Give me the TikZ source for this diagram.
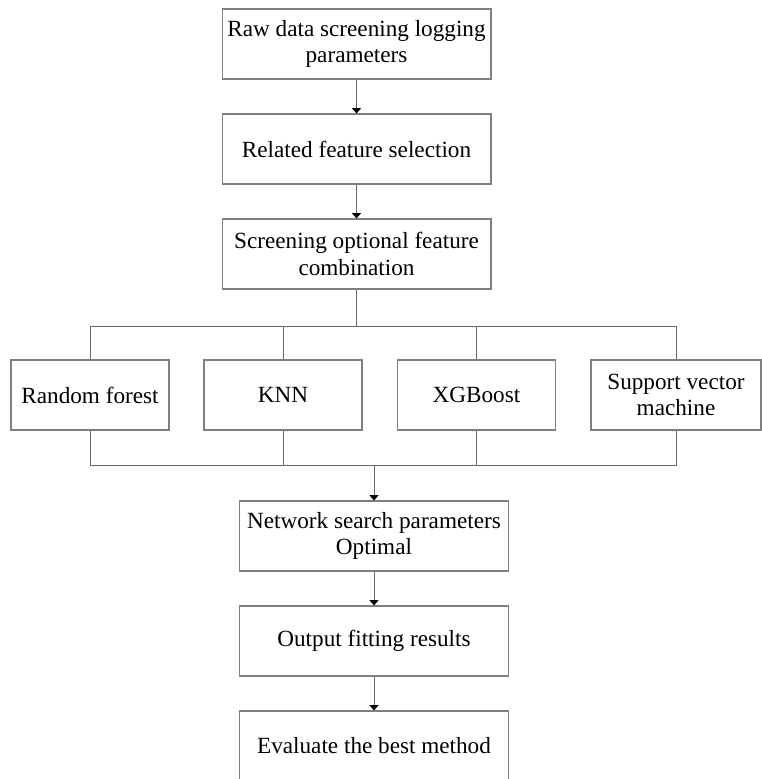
\documentclass[tikz,border=0pt]{standalone}
\usepackage{fontspec}
\setmainfont{Liberation Serif}
\usepackage{tikz}
\usetikzlibrary{arrows.meta,positioning}
\definecolor{framegray}{RGB}{128,128,128}
\definecolor{linegray}{RGB}{105,105,105}
\tikzstyle{box}   =[rectangle, draw=framegray, line width=0.6pt,
                    minimum width=5.38cm, minimum height=1.4cm,
                    align=center, inner sep=2pt,
                    font=\fontsize{13.2}{15}\selectfont]
\tikzstyle{method}=[box, minimum width=3.16cm]
\tikzstyle{link}  =[draw=linegray, line width=0.55pt]
\tikzstyle{flow}  =[link, -{Triangle[length=3pt,width=5pt,color=black]}]

\begin{document}
\begin{tikzpicture}[x=0.02cm, y=-0.02cm]
    \useasboundingbox (0,0) rectangle (762,779);
    % main column
    \node[box] (raw)  at (356.5,44)  {Raw data screening logging\\parameters};
    \node[box] (feat) at (356.5,149) {Related feature selection};
    \node[box] (comb) at (356.5,254) {Screening optional feature\\combination};
    % the four methods
    \node[method] (rf)  at (90,395)    {Random forest};
    \node[method] (knn) at (283,395)   {KNN};
    \node[method] (xgb) at (476.5,395) {XGBoost};
    \node[method, minimum width=3.4cm] (svm) at (676,395) {Support vector\\machine};
    % lower column
    \node[box] (grid) at (374,536) {Network search parameters\\Optimal};
    \node[box] (fit)  at (374,641) {Output fitting results};
    \node[box] (best) at (374,746) {Evaluate the best method};

    \coordinate (split) at (356.5,326);
    \coordinate (merge) at (374,465);

    \draw[flow] (raw) to (feat);
    \draw[flow] (feat) to (comb);
    \draw[link] (comb) -- (split);
    \foreach \m in {rf,knn,xgb,svm}{
        \draw[link] (\m.north) |- (split);
        \draw[link] (\m.south) |- (merge);
    }
    \draw[flow] (merge) -- (grid);
    \draw[flow] (grid) to (fit);
    \draw[flow] (fit) to (best);
\end{tikzpicture}
\end{document}
